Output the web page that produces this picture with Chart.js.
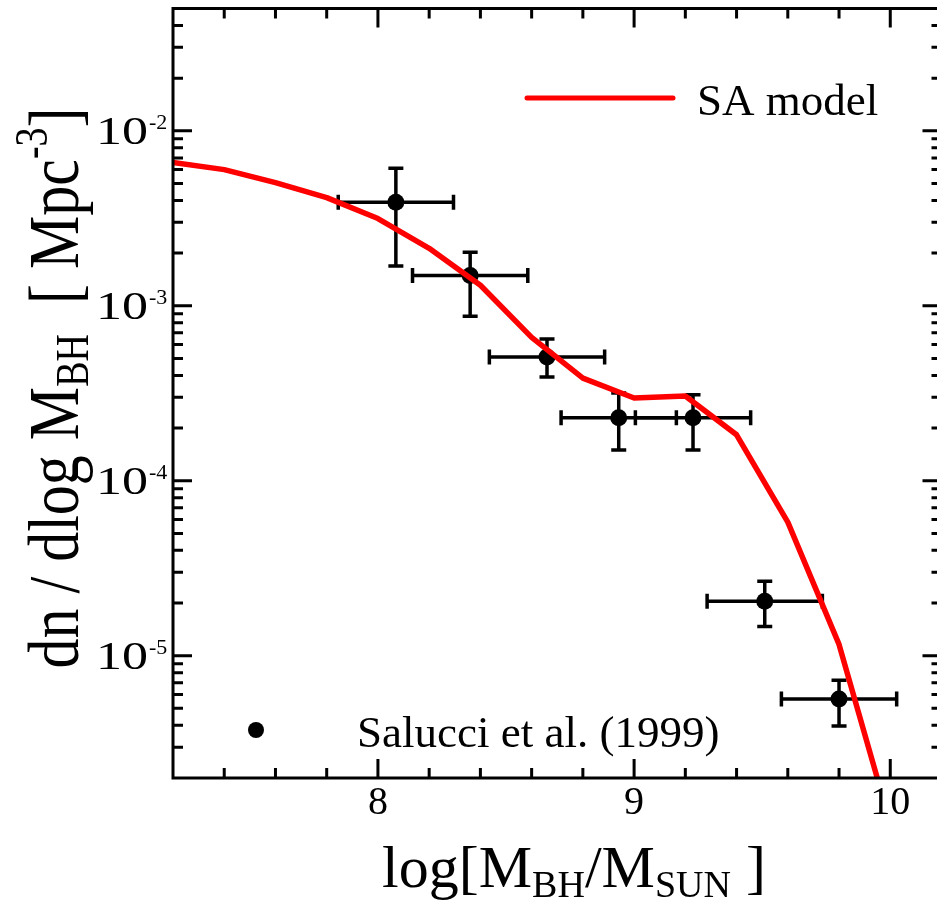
<!DOCTYPE html>
<html>
<head>
<meta charset="utf-8">
<script src="https://cdn.jsdelivr.net/npm/chart.js@4.4.1/dist/chart.umd.min.js"></script>
<style>
    html, body { margin: 0; padding: 0; background: #fff; overflow: hidden; }
    #wrap { width: 950px; height: 912px; }
</style>
</head>
<body>
<div id="wrap"><canvas id="bhmf" width="950" height="912"></canvas></div>
<script>
// SA model curve
const modelLogM = [7.2, 7.4, 7.6, 7.8, 8.0, 8.2, 8.4, 8.6, 8.8, 9.0, 9.2, 9.4, 9.6, 9.8, 10.0];
const modelDensity = [6.6e-3, 6.0e-3, 5.06e-3, 4.15e-3, 3.15e-3, 2.13e-3, 1.31e-3, 6.6e-4, 3.86e-4, 2.97e-4, 3.05e-4, 1.83e-4, 5.8e-5, 1.16e-5, 1.1e-6];

// Salucci et al. (1999)
const obsLogM = [8.07, 8.36, 8.66, 8.94, 9.23, 9.51, 9.80];
const obsDensity = [3.9e-3, 1.49e-3, 5.1e-4, 2.29e-4, 2.29e-4, 2.05e-5, 5.65e-6];
const obsDensityLow = [1.69e-3, 8.7e-4, 3.92e-4, 1.5e-4, 1.5e-4, 1.47e-5, 3.96e-6];
const obsDensityHigh = [6.1e-3, 2.02e-3, 6.46e-4, 3.17e-4, 3.1e-4, 2.66e-5, 7.24e-6];
const obsLogMErr = [0.225, 0.225, 0.225, 0.225, 0.225, 0.225, 0.225];

const xTickValues = [8, 9, 10];
const xTickLabels = ["8", "9", "10"];
const yTickValues = [1e-5, 1e-4, 1e-3, 1e-2];
const yTickExponents = ["-5", "-4", "-3", "-2"];

const SERIF = '"Liberation Serif", "Times New Roman", serif';

// draw a run of text pieces (sub/superscripts) one after another
function drawRuns(ctx, runs, x, y) {
    let w = 0;
    runs.forEach(r => {
        ctx.font = r.size + "px " + SERIF;
        w += ctx.measureText(r.t).width;
    });
    let cx = x - w / 2;
    runs.forEach(r => {
        ctx.font = r.size + "px " + SERIF;
        ctx.fillText(r.t, cx, y + (r.dy || 0));
        cx += ctx.measureText(r.t).width;
    });
}

const framePlugin = {
    id: "frame",
    beforeDatasetsDraw(chart) {
        const ctx = chart.ctx;
        const xs = chart.scales.x, ys = chart.scales.y;
        const cap = 7.5;
        ctx.save();
        ctx.strokeStyle = "#000";
        ctx.lineWidth = 3.5;
        ctx.lineCap = "butt";
        obsLogM.forEach((m, i) => {
            const px = xs.getPixelForValue(m);
            const py = ys.getPixelForValue(obsDensity[i]);
            const yLo = ys.getPixelForValue(obsDensityLow[i]);
            const yHi = ys.getPixelForValue(obsDensityHigh[i]);
            const xL = xs.getPixelForValue(m - obsLogMErr[i]);
            const xR = xs.getPixelForValue(m + obsLogMErr[i]);
            ctx.beginPath();
            ctx.moveTo(px, yLo); ctx.lineTo(px, yHi);
            ctx.moveTo(px - cap, yLo); ctx.lineTo(px + cap, yLo);
            ctx.moveTo(px - cap, yHi); ctx.lineTo(px + cap, yHi);
            ctx.moveTo(xL, py); ctx.lineTo(xR, py);
            ctx.moveTo(xL, py - cap); ctx.lineTo(xL, py + cap);
            ctx.moveTo(xR, py - cap); ctx.lineTo(xR, py + cap);
            ctx.stroke();
        });
        ctx.restore();
    },
    afterDraw(chart) {
        const ctx = chart.ctx;
        const a = chart.chartArea;
        const xs = chart.scales.x, ys = chart.scales.y;
        const major = 19, minor = 10;
        ctx.save();
        ctx.strokeStyle = "#000";
        ctx.fillStyle = "#000";
        ctx.lineWidth = 3;

        // ticks on all four sides, pointing inward
        ctx.beginPath();
        for (let i = 37; i <= 50; i++) {
            const v = i / 5;
            const len = i % 5 === 0 ? major : minor;
            const px = xs.getPixelForValue(v);
            ctx.moveTo(px, a.bottom); ctx.lineTo(px, a.bottom - len);
            ctx.moveTo(px, a.top); ctx.lineTo(px, a.top + len);
        }
        for (let e = -6; e <= -2; e++) {
            for (let m = 1; m <= 9; m++) {
                const v = m * Math.pow(10, e);
                if (v <= ys.min * 1.001 || v >= ys.max * 0.999) continue;
                const len = m === 1 ? major : minor;
                const py = ys.getPixelForValue(v);
                ctx.moveTo(a.left, py); ctx.lineTo(a.left + len, py);
                ctx.moveTo(a.right, py); ctx.lineTo(a.right - len, py);
            }
        }
        ctx.stroke();
        ctx.strokeRect(a.left, a.top, a.right - a.left, a.bottom - a.top);

        // x tick labels
        ctx.textAlign = "center";
        ctx.textBaseline = "alphabetic";
        ctx.font = "40px " + SERIF;
        xTickValues.forEach((v, i) => {
            ctx.fillText(xTickLabels[i], xs.getPixelForValue(v), a.bottom + 36);
        });

        // y tick labels 10^n
        yTickValues.forEach((v, i) => {
            const py = ys.getPixelForValue(v);
            ctx.save();
            ctx.translate(a.left - 25, py + 13);
            ctx.scale(1.3, 1);
            ctx.textAlign = "right";
            ctx.font = "40px " + SERIF;
            ctx.fillText("10", 0, 0);
            ctx.restore();
            ctx.textAlign = "left";
            ctx.font = "22px " + SERIF;
            ctx.fillText(yTickExponents[i], a.left - 24, py - 2);
        });

        // axis titles
        ctx.textAlign = "left";
        drawRuns(ctx, [
            { t: "log[M", size: 60 },
            { t: "BH", size: 38, dy: 10 },
            { t: "/M", size: 60 },
            { t: "SUN", size: 38, dy: 10 },
            { t: " ]", size: 60 }
        ], 574, 887);

        ctx.save();
        ctx.translate(78, 388);
        ctx.rotate(-Math.PI / 2);
        ctx.scale(1, 1.2);
        drawRuns(ctx, [
            { t: "dn / dlog M", size: 60 },
            { t: "BH", size: 38, dy: 8 },
            { t: "  [ Mpc", size: 60 },
            { t: "-3", size: 38, dy: -26 },
            { t: "]", size: 60 }
        ], 0, 0);
        ctx.restore();

        // legend
        ctx.strokeStyle = "#ff0000";
        ctx.lineWidth = 5;
        ctx.lineCap = "round";
        ctx.beginPath();
        ctx.moveTo(527, 98); ctx.lineTo(673, 98);
        ctx.stroke();
        ctx.font = "45px " + SERIF;
        ctx.textAlign = "left";
        ctx.fillText("SA model", 697, 115);

        ctx.beginPath();
        ctx.arc(256, 730, 8, 0, Math.PI * 2);
        ctx.fill();
        ctx.fillText("Salucci et al. (1999)", 357, 747);
        ctx.restore();
    }
};

new Chart(document.getElementById("bhmf"), {
    type: "scatter",
    data: {
        datasets: [
            {
                type: "line",
                label: "SA model",
                data: modelLogM.map((m, i) => ({ x: m, y: modelDensity[i] })),
                borderColor: "#ff0000",
                borderWidth: 5.5,
                borderJoinStyle: "round",
                pointRadius: 0,
                tension: 0,
                fill: false,
                order: 0,
            },
            {
                label: "Salucci et al. (1999)",
                data: obsLogM.map((m, i) => ({ x: m, y: obsDensity[i] })),
                backgroundColor: "#000",
                borderWidth: 0,
                pointRadius: 8.5,
                order: 1,
            },
        ],
    },
    options: {
        responsive: false,
        animation: false,
        layout: { padding: { left: 173, top: 7, right: 6, bottom: 134 } },
        scales: {
            x: {
                type: "linear",
                min: 7.2,
                max: 10.2,
                ticks: { display: false },
                grid: { display: false },
                border: { display: false },
                afterFit: s => { s.height = 0; },
            },
            y: {
                type: "logarithmic",
                min: 2e-6,
                max: 5e-2,
                ticks: { display: false },
                grid: { display: false },
                border: { display: false },
                afterFit: s => { s.width = 0; },
            },
        },
        plugins: {
            legend: { display: false },
            tooltip: { enabled: false },
        },
    },
    plugins: [framePlugin],
});
</script>
</body>
</html>
